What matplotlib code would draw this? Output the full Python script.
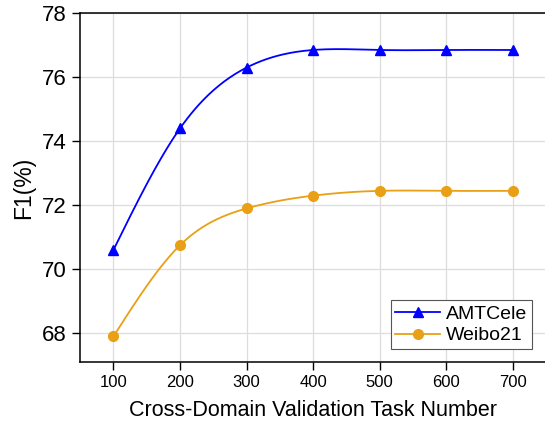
import numpy as np
import matplotlib
matplotlib.use("Agg")
import matplotlib.pyplot as plt

plt.rcParams['font.family'] = ['Liberation Sans', 'DejaVu Sans']

task_numbers = [100, 200, 300, 400, 500, 600, 700]
amtcele = [70.6, 74.4, 76.3, 76.85, 76.85, 76.85, 76.85]
weibo21 = [67.9, 70.75, 71.9, 72.3, 72.45, 72.45, 72.45]


def natural_spline(x, y, n=300):
    # natural cubic spline through the points, for the smooth line
    x = np.asarray(x, float)
    y = np.asarray(y, float)
    k = len(x)
    h = np.diff(x)
    A = np.zeros((k, k))
    b = np.zeros(k)
    A[0, 0] = A[-1, -1] = 1
    for i in range(1, k - 1):
        A[i, i - 1] = h[i - 1]
        A[i, i] = 2 * (h[i - 1] + h[i])
        A[i, i + 1] = h[i]
        b[i] = 3 * ((y[i + 1] - y[i]) / h[i] - (y[i] - y[i - 1]) / h[i - 1])
    c = np.linalg.solve(A, b)
    xs = np.linspace(x[0], x[-1], n)
    idx = np.clip(np.searchsorted(x, xs) - 1, 0, k - 2)
    dx = xs - x[idx]
    hi = h[idx]
    bi = (y[idx + 1] - y[idx]) / hi - hi * (2 * c[idx] + c[idx + 1]) / 3
    di = (c[idx + 1] - c[idx]) / (3 * hi)
    ys = y[idx] + bi * dx + c[idx] * dx ** 2 + di * dx ** 3
    return xs, ys


fig = plt.figure(figsize=(5.45, 4.25), dpi=100)
ax = fig.add_axes([0.147, 0.148, 0.855, 0.821])

series = [
    ('AMTCele', amtcele, '#0000FF', '^', 7.5),
    ('Weibo21', weibo21, '#E9A016', 'o', 7),
]
for name, vals, col, mk, ms in series:
    xs, ys = natural_spline(task_numbers, vals)
    ax.plot(xs, ys, color=col, lw=1.3, zorder=3)
    ax.plot(task_numbers, vals, linestyle='none', marker=mk, ms=ms, color=col, zorder=4)
    # legend proxy
    ax.plot([], [], color=col, lw=1.3, marker=mk, ms=ms, label=name)

ax.set_xlim(50, 750)
ax.set_ylim(67.1, 78)
ax.set_xticks(task_numbers)
ax.set_yticks([68, 70, 72, 74, 76, 78])
ax.tick_params(axis='x', labelsize=12, direction='out', length=6, width=1)
ax.tick_params(axis='y', labelsize=16, direction='out', length=6, width=1)
ax.grid(True, color='#dddddd', lw=0.9)
ax.set_axisbelow(True)
for s in ['left', 'bottom', 'top']:
    ax.spines[s].set_linewidth(1.1)
ax.spines['right'].set_visible(False)

ax.set_xlabel('Cross-Domain Validation Task Number', fontsize=15.5, labelpad=7)
ax.set_ylabel('F1(%)', fontsize=16.5, labelpad=5)

leg = ax.legend(loc='lower right', bbox_to_anchor=(0.97, 0.037), fontsize=14,
                fancybox=False, edgecolor='#555555', framealpha=1,
                handlelength=2.3, handletextpad=0.3, borderpad=0.25,
                labelspacing=0.2, borderaxespad=0.0)
leg.get_frame().set_linewidth(0.8)

fig.savefig('out.png', dpi=100)
